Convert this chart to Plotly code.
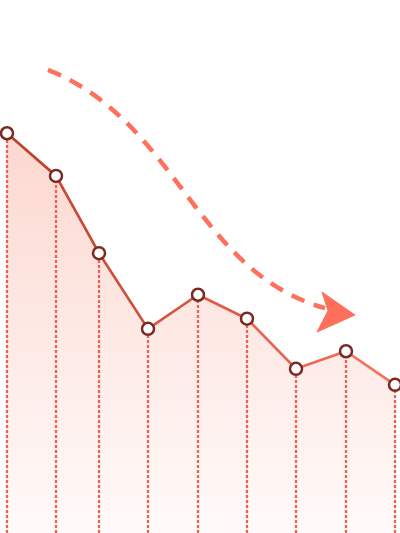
import plotly.graph_objects as go

# positions along the x axis and the values of the falling series
x_pos = [7, 56, 99, 148, 198, 247, 296, 346, 395]
values = [75.0, 67.0, 52.5, 38.3, 44.7, 40.2, 30.8, 34.1, 27.8]

# trend arrow (S curve + head), in axis units
curve_pts = [(48, 86.9), (178, 77.1), (195, 49.0), (325, 42.2)]
head_pts = [(355, 40.9), (322, 45.2), (328, 41.7), (317, 37.7)]

line_left = (192, 66, 48)
line_right = (246, 112, 92)
marker_edge = 'rgb(122,42,36)'
drop_color = 'rgb(238,96,82)'
arrow_color = 'rgb(255,112,92)'

fig = go.Figure()

# soft area under the line
fig.add_trace(go.Scatter(
    x=x_pos, y=values, mode='lines', fill='tozeroy',
    line=dict(width=0, color='rgba(0,0,0,0)'),
    fillgradient=dict(type='vertical', start=0, stop=75,
                      colorscale=[[0, 'rgba(255,250,249,1)'],
                                  [1, 'rgba(252,216,208,1)']]),
    hoverinfo='skip', showlegend=False))

# dotted drop lines from each point down to the bottom
dx, dy = [], []
for xv, yv in zip(x_pos, values):
    dx += [xv, xv, None]
    dy += [0, yv, None]
fig.add_trace(go.Scatter(
    x=dx, y=dy, mode='lines',
    line=dict(color=drop_color, width=2.3, dash='3px,2px'),
    hoverinfo='skip', showlegend=False))

# line drawn segment by segment so it fades from dark to light
n = len(x_pos) - 1
for i in range(n):
    t = i / (n - 1)
    c = tuple(round(a + (b - a) * t) for a, b in zip(line_left, line_right))
    fig.add_trace(go.Scatter(
        x=x_pos[i:i + 2], y=values[i:i + 2], mode='lines',
        line=dict(color='rgb(%d,%d,%d)' % c, width=2.7),
        hoverinfo='skip', showlegend=False))

# hollow markers
fig.add_trace(go.Scatter(
    x=x_pos, y=values, mode='markers', cliponaxis=False,
    marker=dict(size=12, color='white', line=dict(color=marker_edge, width=2.5)),
    hoverinfo='skip', showlegend=False))

p0, p1, p2, p3 = curve_pts
fig.add_shape(type='path', xref='x', yref='y',
              path='M %s,%s C %s,%s %s,%s %s,%s' % (*p0, *p1, *p2, *p3),
              line=dict(color=arrow_color, width=4.5, dash='14px,10px'))
h = head_pts
fig.add_shape(type='path', xref='x', yref='y',
              path='M %s,%s L %s,%s L %s,%s L %s,%s Z' % (*h[0], *h[1], *h[2], *h[3]),
              fillcolor=arrow_color, line=dict(color=arrow_color, width=1))

fig.update_xaxes(range=[0, 400], visible=False)
fig.update_yaxes(range=[0, 100], visible=False)
fig.update_layout(width=400, height=533, margin=dict(l=0, r=0, t=0, b=0),
                  plot_bgcolor='white', paper_bgcolor='white', hovermode=False)

# drop the default 8px body margin so the chart sits flush in the window
fig.write_html("out.html", config={'displayModeBar': False},
               post_script="document.body.style.margin='0';document.body.style.overflow='hidden';")
